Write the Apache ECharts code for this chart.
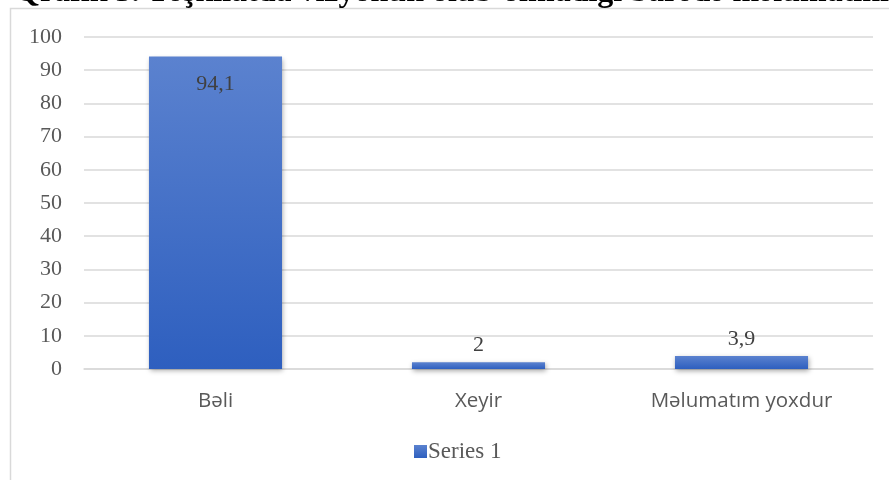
<!DOCTYPE html>
<html><head><meta charset="utf-8">
<script src="https://cdn.jsdelivr.net/npm/echarts@6/dist/echarts.min.js"></script>
<style>html,body{margin:0;padding:0;background:#fff}#c{width:889px;height:480px}</style>
</head><body><div id="c"></div>
<script>
const titleText = 'Qrafik 3. Təşkilatda vizyonun olub-olmadığı barədə məlumatınız';
const categories = ['Bəli', 'Xeyir', 'Məlumatım yoxdur'];
const seriesName = 'Series 1';
const values = [94.1, 2, 3.9];
const yTicks = { min: 0, max: 100, interval: 10 };

const chart = echarts.init(document.getElementById('c'));
const serif = '"Liberation Serif", "Times New Roman", serif';
const sans = '"Open Sans", "Noto Sans", sans-serif';
const fmt = v => String(v).replace('.', ',');
const barColor = new echarts.graphic.LinearGradient(0, 0, 0, 1, [
  { offset: 0, color: '#5b82cf' },
  { offset: 1, color: '#2e5fbf' }
]);
chart.setOption({
  animation: false,
  graphic: [
    { type: 'rect', shape: { x: 10.5, y: 8.5, width: 900, height: 500 }, style: { fill: 'none', stroke: '#d9d9d9', lineWidth: 1.5 }, z: -1 },
    { type: 'text', x: 15, y: -7, style: { text: titleText, font: 'bold 32px "Liberation Serif", serif', fill: '#000', verticalAlign: 'middle' } }
  ],
  grid: { left: 84, right: 16, top: 37, bottom: 111 },
  legend: {
    bottom: 12, left: 409, icon: 'rect', itemWidth: 13, itemHeight: 13, itemGap: 4,
    textStyle: { fontFamily: serif, fontSize: 23, color: '#595959', padding: [0, 0, 0, -4] },
    data: [seriesName]
  },
  xAxis: {
    type: 'category', data: categories,
    axisLine: { lineStyle: { color: '#d9d9d9', width: 1.5 } },
    axisTick: { show: false },
    axisLabel: { fontFamily: sans, fontSize: 20.5, color: '#595959', margin: 22 }
  },
  yAxis: {
    type: 'value', min: yTicks.min, max: yTicks.max, interval: yTicks.interval,
    axisLine: { show: false }, axisTick: { show: false },
    axisLabel: { fontFamily: serif, fontSize: 22, color: '#595959', margin: 22 },
    splitLine: { lineStyle: { color: '#d9d9d9', width: 1.5 } }
  },
  series: [{
    type: 'bar', name: seriesName,
    barWidth: '50.6%',
    data: values.map((v, i) => i === 0 ? { value: v, label: { position: 'insideTop', distance: 17 } } : v),
    itemStyle: { color: barColor, shadowBlur: 5, shadowOffsetX: 1, shadowOffsetY: 2, shadowColor: 'rgba(0,0,0,0.35)' },
    label: { show: true, position: 'top', distance: 6, fontFamily: serif, fontSize: 22, color: '#404040', formatter: p => fmt(p.value) }
  }]
});
</script></body></html>
